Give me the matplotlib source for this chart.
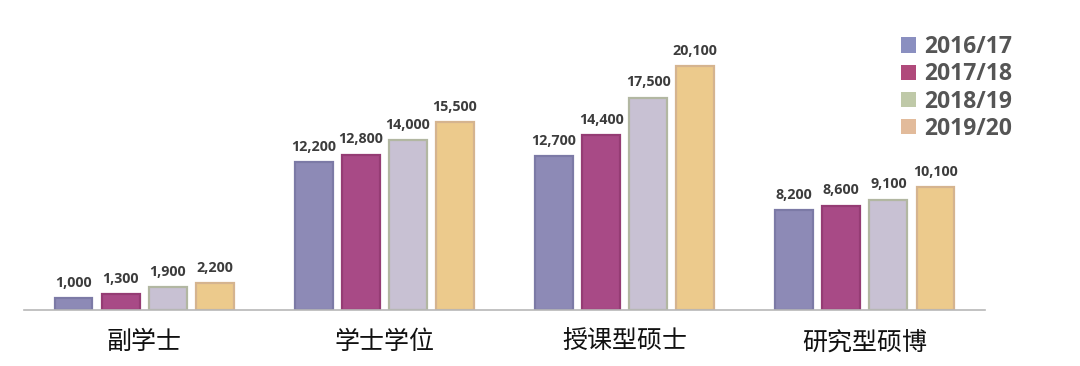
import numpy as np
import matplotlib.pyplot as plt
from matplotlib.patches import Patch

plt.rcParams['font.family'] = ['Noto Sans CJK SC', 'DejaVu Sans']

categories = ['副学士', '学士学位', '授课型硕士', '研究型硕博']
years = ['2016/17', '2017/18', '2018/19', '2019/20']
values = {
    '2016/17': [1000, 12200, 12700, 8200],
    '2017/18': [1300, 12800, 14400, 8600],
    '2018/19': [1900, 14000, 17500, 9100],
    '2019/20': [2200, 15500, 20100, 10100],
}

fills = ['#8d8ab6', '#a84a86', '#c8c1d3', '#ecca8c']
edges = ['#7c7aa6', '#953c74', '#b2b7a2', '#d5b48f']
legend_cols = ['#8a8fc0', '#b04a7b', '#bfc9a8', '#e2bb9b']

fig = plt.figure(figsize=(10.8, 3.66), dpi=100)
ax = fig.add_axes([24 / 1080, 56 / 366, 961 / 1080, 310 / 366])

x = np.arange(len(categories))
step = 0.196
width = 0.158
for i, yr in enumerate(years):
    pos = x + (i - 1.5) * step
    bars = ax.bar(pos, values[yr], width, color=fills[i], edgecolor=edges[i],
                  linewidth=1.6, zorder=2)
    for b, v in zip(bars, values[yr]):
        ax.annotate(f'{v:,}', (b.get_x() + b.get_width() / 2, v),
                    xytext=(0, 6), textcoords='offset points',
                    ha='center', va='bottom', fontsize=10.3,
                    fontweight='bold', color='#3c3c3c', family='Open Sans')

ax.set_xlim(-0.5, 3.5)
ax.set_ylim(0, 25540)
for s in ['top', 'right', 'left']:
    ax.spines[s].set_visible(False)
ax.spines['bottom'].set_color('#b8b8b8')
ax.spines['bottom'].set_linewidth(1.2)
ax.set_yticks([])
ax.set_xticks(x)
ax.set_xticklabels(categories, fontsize=18, color='#111111', fontweight='medium')
ax.tick_params(axis='x', length=0, pad=14)

handles = [Patch(facecolor=c, edgecolor='none') for c in legend_cols]
leg = fig.legend(handles, years, loc='upper left',
                 bbox_to_anchor=(892 / 1080, 1 - 26 / 366), frameon=False,
                 handlelength=0.65, handleheight=0.65, handletextpad=0.35,
                 labelspacing=0.14, borderaxespad=0,
                 prop={'family': 'Open Sans', 'size': 16.5, 'weight': 'bold'})
for t in leg.get_texts():
    t.set_color('#555555')

fig.savefig('out.png', dpi=100)
